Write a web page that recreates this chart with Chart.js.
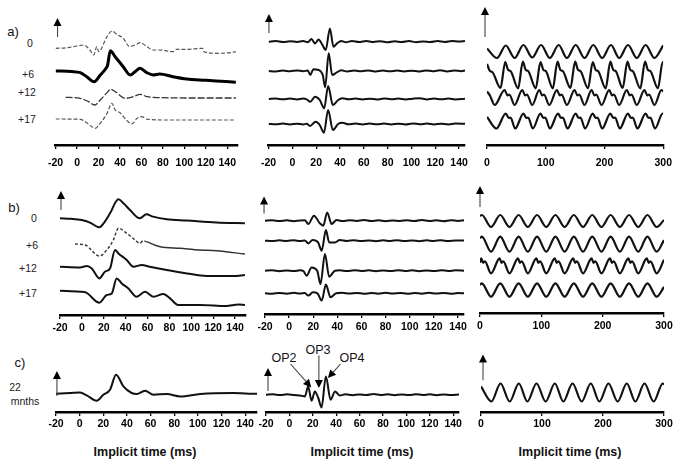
<!DOCTYPE html>
<html lang="en">
<head>
  <meta charset="UTF-8" />
  <title>ERG responses</title>
  <script src="https://cdn.jsdelivr.net/npm/chart.js"></script>
  <style>
    body { margin: 0; background: #fff; }
    #fig { position: relative; width: 681px; height: 466px; background: #fff; overflow: hidden;
           font-family: 'Liberation Sans', Arial, sans-serif; color: #111; }
    #fig canvas { position: absolute; }
    .lbl { position: absolute; transform: translate(-50%, -50%); white-space: nowrap; }
    .row { font-size: 10.5px; color: #222; }
    .pan { font-size: 13px; }
    .ttl { font-size: 12.5px; font-weight: bold; }
    .op { font-size: 12.5px; }
  </style>
</head>
<body>
<div id="fig">
  <div class="lbl pan" style="left:13px;top:31px">a)</div>
  <div class="lbl pan" style="left:14px;top:207px">b)</div>
  <div class="lbl pan" style="left:20px;top:362px">c)</div>

  <div class="lbl row" style="left:30px;top:43px">0</div>
  <div class="lbl row" style="left:28px;top:74px">+6</div>
  <div class="lbl row" style="left:27px;top:92px">+12</div>
  <div class="lbl row" style="left:27px;top:119px">+17</div>

  <div class="lbl row" style="left:34px;top:218px">0</div>
  <div class="lbl row" style="left:32px;top:245px">+6</div>
  <div class="lbl row" style="left:28px;top:268px">+12</div>
  <div class="lbl row" style="left:28px;top:293px">+17</div>

  <div class="lbl row" style="left:15px;top:387px">22</div>
  <div class="lbl row" style="left:25px;top:401px">mnths</div>

  <div class="lbl op" style="left:284px;top:358px">OP2</div>
  <div class="lbl op" style="left:318px;top:350px">OP3</div>
  <div class="lbl op" style="left:352px;top:358px">OP4</div>

  <div class="lbl ttl" style="left:145px;top:452px">Implicit time (ms)</div>
  <div class="lbl ttl" style="left:362px;top:452px">Implicit time (ms)</div>
  <div class="lbl ttl" style="left:570px;top:452px">Implicit time (ms)</div>
</div>

<script>
  // tick labels
  const timeTicks = [-20, 0, 20, 40, 60, 80, 100, 120, 140];
  const flickerTicks = [0, 100, 200, 300];

  // --- row a) : flash ERG, [ms, amplitude] relative to each trace baseline
  const aL0 = [[-20,0],[-10,0.5],[0,2.3],[6,3.3],[12,-1.7],[15.5,-6.7],[18.5,1.7],[20,-3.3],[28,11.7],[32.5,17.3],[37,14],[43,10],[49,1.7],[54,3.3],[59,5.7],[65,1.7],[71,-1.7],[77,-1.7],[89.5,-3.3],[92.5,-1],[102,-1],[117,0],[118,-3.3],[130,-5],[145,-4],[148,-3.3]];
  const aL6 = [[-20,0],[-5,-0.5],[3,-1.7],[9,-5.7],[16,-10.7],[21.7,-4],[27,2.7],[28.5,6],[31,20.3],[35.5,14.3],[43,4.3],[49.5,-4],[54,-0.7],[58.7,2.7],[65,-1.7],[71,-4],[77,-3],[89.5,-5.7],[102,-8],[120,-9.3],[145,-11],[148,-11.3]];
  const aL12 = [[-10.7,0],[3,-1],[10.6,-4.3],[16.4,-7.7],[21.6,-2.7],[28,4.7],[31.5,8],[35.5,5.7],[45,-1],[52.5,0.7],[58.7,3],[65,0.7],[77,-0.3],[114,-0.7],[148,-0.7]];
  const aL17 = [[-20,0],[3,-0.3],[9,-3.7],[17,-9.3],[21.6,-4.3],[28,5.7],[32.5,15.7],[35.5,9],[40,6.3],[46,-1],[51,-5],[56,0.7],[60,2.3],[66,-0.3],[83,-1],[148,-1]];

  // row a) oscillatory potentials
  const aM1 = [[-20,0],[-14,0.6],[-8,-0.4],[-2,0.5],[4,-0.3],[9,0.6],[13,-0.5],[16,2.7],[19,-1.7],[22,2.3],[25,-2.7],[28,-8.3],[31.5,13.3],[34.5,-5],[37.5,-1.7],[41,0.7],[45,-0.5],[50,0.6],[56,-0.4],[62,0.8],[68,-0.3],[74,0.5],[80,-0.6],[86,0.4],[92,-0.3],[98,0.7],[104,-0.5],[110,0.3],[116,-0.4],[122,0.6],[128,-0.3],[134,0.7],[140,0.2],[145,0.8]];
  const aM2 = [[-20,0],[-14,-0.4],[-8,0.5],[-2,-0.3],[4,0.6],[9,-0.3],[13,0.5],[15,-4],[17.6,1.7],[22,1],[25.5,-4],[27.5,-16.3],[30.5,17.7],[33.4,-4],[37,-1.7],[41,0.7],[46,-0.4],[52,0.5],[58,-0.3],[64,0.6],[70,-0.5],[76,0.4],[82,-0.3],[88,0.5],[94,-0.4],[100,0.3],[106,-0.5],[112,0.6],[118,-0.3],[124,0.8],[130,-0.4],[136,0.5],[142,-0.2],[145,0.4]];
  const aM3 = [[-20,0],[-14,0.5],[-8,-0.3],[-2,0.4],[4,-0.5],[9,0.4],[12,-0.3],[15,-2.7],[19,2.3],[23,-1],[26.7,-9.3],[30,13],[34,-6],[38.4,-1],[42,0.7],[47,-0.3],[53,0.5],[59,-0.4],[65,0.3],[71,-0.5],[77,0.6],[83,-0.3],[89,0.4],[95,-0.5],[101,0.3],[107,0.8],[113,-0.4],[119,0.5],[125,-0.3],[131,0.4],[137,-0.5],[145,0.3]];
  const aM4 = [[-20,0],[-14,-0.3],[-8,0.5],[-2,-0.4],[4,0.3],[9,-0.5],[12,0.3],[14.8,-2],[19.5,2.3],[23,-1],[26.5,-8.7],[30,14],[34,-6],[38.4,0],[42,1.3],[47,-0.3],[53,0.5],[59,-0.4],[65,0.5],[71,-0.3],[77,0.4],[83,-0.5],[89,0.3],[95,-0.4],[101,0.6],[107,-0.3],[113,0.4],[119,-0.5],[125,0.3],[131,-0.4],[137,0.5],[145,0.2]];

  // row a) 30 Hz flicker
  const aR1 = [[0,3],[17,-6.5],[32,6],[47,-6.5],[62,6.5],[77,-6],[92,6.5],[107,-6.5],[122,6.5],[136,-6.5],[151,6.5],[166,-6.5],[181,6.5],[196,-6.5],[211,6.5],[225,-6.5],[240,6.5],[255,-6.5],[270,6.5],[285,-6.5],[300,6]];
  const aR2 = [[0,11],[5,4],[9,3],[23,-13],[31,13],[36,5],[40,4],[53,-13.3],[61,13.3],[66,5],[70,4],[83,-13.3],[91,13],[96,5],[100,4],[112,-13.3],[120,13.3],[125,5],[129,4],[142,-13],[150,13.3],[155,5],[159,4],[172,-13.3],[180,13],[185,5],[189,4],[202,-13.3],[210,13.3],[215,5],[219,4],[231,-13],[239,13.3],[244,5],[248,4],[261,-13.3],[269,13.3],[274,5],[278,4],[291,-13.3],[299,13],[300,12.5]];
  const aR3 = [[0,6],[5,2],[13,-7.5],[30,7.5],[35,2],[38,3],[47,-7.5],[60,7.5],[65,2],[68,3],[77,-7.5],[89,7.5],[94,2],[97,3],[106,-7.5],[119,7.5],[124,2],[127,3],[136,-7.5],[149,7.5],[154,2],[157,3],[166,-7.5],[178,7.5],[183,2],[186,3],[195,-7.5],[208,7.5],[213,2],[216,3],[225,-7.5],[238,7.5],[243,2],[246,3],[255,-7.5],[268,7.5],[273,2],[276,3],[285,-7.5],[297,7.5],[300,6]];
  const aR4 = [[0,4],[16,-7.5],[32,7.5],[37,3],[40,3.5],[48,-7.5],[62,7.5],[67,3],[70,3.5],[78,-7.5],[91,7.5],[96,3],[99,3.5],[107,-7.5],[121,7.5],[126,3],[129,3.5],[137,-7.5],[151,7.5],[156,3],[159,3.5],[167,-7.5],[180,7.5],[185,3],[188,3.5],[196,-7.5],[210,7.5],[215,3],[218,3.5],[226,-7.5],[240,7.5],[245,3],[248,3.5],[256,-7.5],[270,7.5],[275,3],[278,3.5],[286,-7.5],[299,7.5],[300,7]];

  // --- row b)
  const bL0 = [[-20,0],[-10,-0.5],[-0.2,-1.7],[7.4,-4.3],[16,-9],[21,-3.3],[25.7,5],[33.4,19],[38,15],[44,8.3],[53,0],[59,4],[65,1.7],[77.6,-1],[96,-2.3],[123,-4.3],[149,-5]];
  const bL6 = [[-6.3,0],[3,-1],[16,-12],[22.7,-6],[28.8,4],[33.4,15.7],[41,10.7],[48.6,4],[53,0.7],[56,3.3],[59,2.3],[71.5,-2.7],[89.8,-4.3],[108,-6],[123,-6.7],[149,-10]];
  const bL12 = [[-20,0],[-1.7,-0.7],[4.4,0.7],[9,-1.7],[16,-11.7],[21,-5],[25.7,-1.7],[30.3,16.7],[33.4,13.3],[41,6.7],[47,0],[54.7,1.7],[62,0],[77.6,-3.3],[96,-6.7],[114,-9.3],[138.5,-9.3],[149,-8.3]];
  const bL17 = [[-20,0],[-1.7,-1],[4,-2],[16,-12],[22.7,-4.3],[27.3,-2.7],[31.8,12.3],[36.4,7.3],[42.5,2.3],[50,-6],[57.7,-1],[65.4,-6],[74.5,-3.3],[80.6,-7.7],[88,-14.3],[108,-14.3],[132,-15.3],[143,-13.7],[149,-14.3]];

  const bM1 = [[-20,0],[-14,0.5],[-8,-0.4],[-2,0.4],[4,-0.5],[9,0.3],[13,0.4],[15.9,-3.3],[20.6,5],[25.5,-2.7],[28.3,-5],[31.6,8.3],[35.2,-3.3],[39.3,0.7],[44,-0.4],[50,0.5],[56,-0.3],[62,0.6],[68,-0.4],[74,0.4],[80,-0.5],[86,0.3],[92,-0.3],[98,0.5],[104,-0.4],[110,0.6],[116,-0.3],[122,0.4],[128,-0.5],[134,0.5],[140,-0.3],[145,0.4]];
  const bM2 = [[-20,0],[-14,-0.4],[-8,0.4],[-2,-0.3],[4,0.5],[9,-0.4],[13,0.3],[15.9,-2.7],[19.5,0.7],[24,-1.7],[27,-10],[30.5,10.7],[33.2,-1.7],[38,-1.7],[42,0.7],[48,-0.3],[54,0.5],[60,-0.4],[66,0.3],[72,-0.5],[78,0.4],[84,-0.3],[90,0.5],[96,-0.4],[102,0.3],[108,-0.5],[114,0.4],[120,-0.3],[126,0.5],[132,-0.4],[138,0.3],[145,0.2]];
  const bM3 = [[-20,0],[-14,0.4],[-8,-0.5],[-2,0.3],[4,-0.4],[9,0.5],[12,-0.5],[14.5,-5],[18.6,3.3],[23.3,0],[26,-13.3],[29.7,16.7],[33.2,-6],[38,0],[42,0.5],[48,-0.4],[54,0.5],[60,-0.3],[66,0.4],[72,-0.5],[78,0.3],[84,-0.4],[90,0.5],[96,-0.3],[102,0.4],[108,-0.5],[114,0.3],[120,-0.4],[126,0.5],[132,-0.3],[138,0.4],[145,0]];
  const bM4 = [[-20,0],[-14,-0.5],[-8,0.4],[-2,-0.4],[4,0.5],[9,-0.3],[13,0.3],[15.9,-2.3],[19.7,1],[23.5,0],[27,-7.3],[30.5,8.7],[34.3,-4],[39,0],[44,0.5],[50,-0.3],[56,0.4],[62,-0.5],[68,0.3],[74,-0.4],[80,0.5],[86,-0.3],[92,0.4],[98,-0.5],[104,0.3],[110,-0.4],[116,0.5],[122,-0.3],[128,0.4],[134,-0.5],[140,0.3],[145,0]];

  const bR1 = [[0,5],[3,6],[18,-6],[33,6],[48,-6],[63,6],[78,-6],[93,6],[108,-6],[123,6],[138,-6],[153,6],[168,-6],[183,6],[198,-6],[213,6],[228,-6],[243,6],[258,-6],[273,6],[288,-6],[300,1]];
  const bR2 = [[0,6],[3,7.5],[18,-7.5],[33,7.5],[48,-7.5],[63,7.5],[78,-7.5],[93,7.5],[108,-7.5],[123,7.5],[138,-7.5],[153,7.5],[168,-7.5],[183,7.5],[198,-7.5],[213,7.5],[228,-7.5],[243,7.5],[258,-7.5],[273,7.5],[288,-7.5],[300,4]];
  const bR3 = [[0,3],[2,7.5],[5,3],[8,4.5],[18,-7.5],[32,7.5],[35,3],[38,4.5],[48,-7.5],[62,7.5],[65,3],[68,4.5],[78,-7.5],[92,7.5],[95,3],[98,4.5],[108,-7.5],[122,7.5],[125,3],[128,4.5],[138,-7.5],[152,7.5],[155,3],[158,4.5],[168,-7.5],[182,7.5],[185,3],[188,4.5],[198,-7.5],[212,7.5],[215,3],[218,4.5],[228,-7.5],[242,7.5],[245,3],[248,4.5],[258,-7.5],[272,7.5],[275,3],[278,4.5],[288,-7.5],[300,6]];
  const bR4 = [[0,5],[3,6.7],[18,-6.7],[33,6.7],[48,-6.7],[63,6.7],[78,-6.7],[93,6.7],[108,-6.7],[123,6.7],[138,-6.7],[153,6.7],[168,-6.7],[183,6.7],[198,-6.7],[213,6.7],[228,-6.7],[243,6.7],[258,-6.7],[273,6.7],[288,-6.7],[300,3]];

  // --- row c) 22 months
  const cL = [[-20,0],[-8,0.7],[0.3,1.3],[6,-1.7],[14.4,-7],[20,-1],[25.7,4],[30.8,19],[37,7.3],[44,0.7],[48.3,-0.3],[55.3,3],[62.4,-1],[73.7,-0.3],[85,-2.7],[102,-0.3],[130,0.7],[143,0],[150,0]];
  const cM = [[-20,0],[-14,0.5],[-8,-0.4],[-2,0.4],[4,-0.3],[9,-0.7],[13.3,-1.7],[16,8.3],[19,-6],[21.8,3.3],[24.7,-3.3],[27.5,-12.7],[31.2,18.3],[35.2,-5],[39,3.3],[43,-0.7],[48,0.4],[54,-0.5],[60,0.3],[66,-0.4],[72,0.6],[78,-0.3],[84,0.4],[90,-0.5],[96,0.3],[102,-0.4],[108,0.5],[114,-0.3],[120,0.4],[126,-0.5],[132,0.3],[138,-0.4],[145,0.2]];
  const cR = [[0,6],[17,-9],[32,9],[47,-9],[62,9],[76,-9],[91,9],[106,-9],[121,9],[135,-9],[150,9],[165,-9],[180,9],[194,-9],[209,9],[224,-9],[239,9],[253,-9],[268,9],[283,-9],[298,9],[300,8]];

  // styles
  const solid = { c: '#111', w: 2 };
  const thick = { c: '#000', w: 3 };
  const faint = { c: '#555', w: 1.2, dash: [4, 2] };
  const thin = { c: '#333', w: 1.3, dash: [7, 2] };
  const flick = { c: '#111', w: 2.2 };
  const mixed = { c: '#333', w: 1.4, dash: [3, 2], solidFrom: 58 };

  // layout of the nine panels (pixel placement)
  const panels = [
    { xMin: -20, xMax: 150, x0: 54, ppu: 1.08125, axisY: 145, areaH: 140, pad: 8, ticks: timeTicks,
      traces: [aL0, aL6, aL12, aL17], base: [96.7, 74, 47.7, 26], styles: [faint, thick, thin, faint],
      arrows: [[-18.2, 108, -18.2, 127]] },
    { xMin: -20, xMax: 145, x0: 266.7, ppu: 1.1975, axisY: 145, areaH: 140, pad: 8, ticks: timeTicks,
      traces: [aM1, aM2, aM3, aM4], base: [103.3, 74, 46, 21], styles: [solid, solid, solid, solid],
      arrows: [[-19.7, 112, -19.7, 131]] },
    { xMin: 0, xMax: 300, x0: 487, ppu: 0.5967, axisY: 145, areaH: 140, pad: 8, ticks: flickerTicks,
      traces: [aR1, aR2, aR3, aR4], base: [93.5, 70, 47.5, 24], styles: [flick, flick, flick, flick],
      arrows: [[-3.4, 108, -3.4, 138]] },
    { xMin: -20, xMax: 150, x0: 60, ppu: 1.094, axisY: 315, areaH: 140, pad: 3, ticks: timeTicks,
      traces: [bL0, bL6, bL12, bL17], base: [96.7, 71, 48.3, 24.3], styles: [solid, mixed, solid, solid],
      arrows: [[-19.1, 105, -19.1, 124]] },
    { xMin: -20, xMax: 145, x0: 265, ppu: 1.208, axisY: 313.5, areaH: 140, pad: 3, ticks: timeTicks,
      traces: [bM1, bM2, bM3, bM4], base: [93.3, 73.3, 43.3, 20.7], styles: [solid, solid, solid, solid],
      arrows: [[-20.8, 100.5, -20.8, 117.5]] },
    { xMin: 0, xMax: 300, x0: 480, ppu: 0.6133, axisY: 313, areaH: 140, pad: 3, ticks: flickerTicks,
      traces: [bR1, bR2, bR3, bR4], base: [92, 68.8, 47.2, 23], styles: [flick, flick, flick, flick],
      arrows: [[0, 106, 0, 127]] },
    { xMin: -20, xMax: 150, x0: 56, ppu: 1.181, axisY: 412.3, areaH: 65, pad: 2, ticks: timeTicks,
      traces: [cL], base: [18.3], styles: [solid],
      arrows: [[-19.2, 16, -19.2, 41]] },
    { xMin: -20, xMax: 145, x0: 266, ppu: 1.16875, axisY: 412.3, areaH: 65, pad: 2, ticks: timeTicks,
      traces: [cM], base: [17.3], styles: [solid],
      arrows: [[-18.3, 21, -18.3, 44], [1, 48, 18.7, 24.6], [25.2, 56.6, 25.2, 24], [43.7, 48, 32.9, 34]] },
    { xMin: 0, xMax: 300, x0: 481, ppu: 0.61, axisY: 411.7, areaH: 65, pad: 2, ticks: flickerTicks,
      traces: [cR], base: [19.5], styles: [flick],
      arrows: [[3.3, 31.7, 3.3, 57.5]] }
  ];

  Chart.defaults.font.family = "'Liberation Sans', Arial, sans-serif";
  Chart.defaults.color = '#111';

  function drawArrow(ctx, x1, y1, x2, y2) {
    const ang = Math.atan2(y2 - y1, x2 - x1);
    const hl = 8, hw = 4;
    ctx.save();
    ctx.strokeStyle = '#444';
    ctx.lineWidth = 1.1;
    ctx.beginPath();
    ctx.moveTo(x1, y1);
    ctx.lineTo(x2 - hl * Math.cos(ang), y2 - hl * Math.sin(ang));
    ctx.stroke();
    ctx.fillStyle = '#000';
    ctx.beginPath();
    ctx.moveTo(x2, y2);
    ctx.lineTo(x2 - hl * Math.cos(ang) + hw * Math.sin(ang), y2 - hl * Math.sin(ang) - hw * Math.cos(ang));
    ctx.lineTo(x2 - hl * Math.cos(ang) - hw * Math.sin(ang), y2 - hl * Math.sin(ang) + hw * Math.cos(ang));
    ctx.closePath();
    ctx.fill();
    ctx.restore();
  }

  const arrowPlugin = {
    id: 'arrows',
    afterDraw(chart, args, opts) {
      const { ctx, scales: { x, y } } = chart;
      (opts.list || []).forEach(a => {
        drawArrow(ctx, x.getPixelForValue(a[0]), y.getPixelForValue(a[1]),
                  x.getPixelForValue(a[2]), y.getPixelForValue(a[3]));
      });
    }
  };

  const fig = document.getElementById('fig');
  const padL = 14, padR = 14, axisH = 30;

  panels.forEach(p => {
    const w = Math.round((p.xMax - p.xMin) * p.ppu) + padL + padR;
    const h = p.areaH + axisH;
    const cv = document.createElement('canvas');
    cv.width = w;
    cv.height = h;
    cv.style.left = Math.round(p.x0 - padL) + 'px';
    cv.style.top = Math.round(p.axisY - p.areaH) + 'px';
    fig.appendChild(cv);

    new Chart(cv, {
      type: 'line',
      data: {
        datasets: p.traces.map((tr, i) => {
          const s = p.styles[i];
          const ds = {
            data: tr.map(([x, y]) => ({ x, y: y + p.base[i] })),
            borderColor: s.c,
            borderWidth: s.w,
            borderDash: s.solidFrom != null ? [] : (s.dash || []),
            pointRadius: 0,
            fill: false,
            cubicInterpolationMode: 'monotone',
            borderJoinStyle: 'round'
          };
          if (s.solidFrom != null) {
            ds.segment = { borderDash: c => c.p0.parsed.x < s.solidFrom ? s.dash : [] };
          }
          return ds;
        })
      },
      options: {
        responsive: false,
        animation: false,
        events: [],
        layout: { padding: { left: padL, right: padR, top: 0, bottom: 0 } },
        plugins: { legend: { display: false }, tooltip: { enabled: false }, arrows: { list: p.arrows } },
        scales: {
          x: {
            type: 'linear', min: p.xMin, max: p.xMax,
            afterBuildTicks: s => { s.ticks = p.ticks.map(v => ({ value: v })); },
            afterFit: s => { s.height = axisH; },
            grid: { drawOnChartArea: false, tickLength: 4, color: '#000', lineWidth: 1.3 },
            border: { color: '#000', width: 2.5 },
            ticks: { color: '#000', autoSkip: false, maxRotation: 0, padding: p.pad,
                     font: { size: 10.5, weight: 'bold' } }
          },
          y: { display: false, min: 0, max: p.areaH }
        }
      },
      plugins: [arrowPlugin]
    });
  });
</script>
</body>
</html>
